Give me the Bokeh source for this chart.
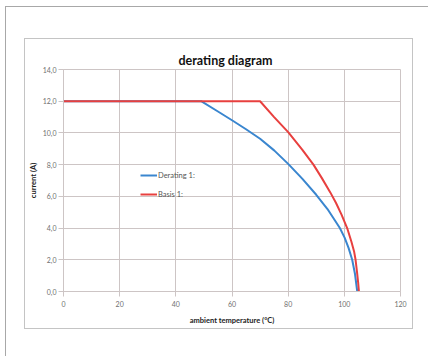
from bokeh.plotting import figure
from bokeh.layouts import column
from bokeh.models import Legend, LegendItem, FixedTicker, Range1d
from bokeh.embed import file_html
from bokeh.resources import INLINE

title_text = "derating diagram"
x_label = "ambient temperature (°C)"
y_label = "current (A)"
x_ticks = [0, 20, 40, 60, 80, 100, 120]
y_ticks = [0, 2, 4, 6, 8, 10, 12, 14]
y_tick_labels = ["0,0", "2,0", "4,0", "6,0", "8,0", "10,0", "12,0", "14,0"]

basis_name = "Basis 1:"
basis_temp = [0, 70, 75, 80, 85, 89, 92, 95, 97, 99, 101, 102.5, 103.5, 104, 104.5, 104.9, 105.2]
basis_current = [12, 12, 11.0, 10.05, 8.95, 8.0, 7.15, 6.25, 5.6, 4.85, 4.0, 3.15, 2.5, 2.0, 1.25, 0.6, 0]

derating_name = "Derating 1:"
derating_temp = [0, 49, 55, 60, 65, 70, 75, 80, 85, 90, 94, 98.4, 100.1, 101.5, 102.8, 103.8, 104.6]
derating_current = [12, 12, 11.35, 10.8, 10.23, 9.63, 8.9, 8.05, 7.12, 6.1, 5.2, 4.0, 3.4, 2.75, 2.0, 1.1, 0]

FONT = "Lato"
GRID = "#cdc5c5"

p = figure(width=387, height=289, output_backend="svg", toolbar_location=None,
           x_range=Range1d(0, 120), y_range=Range1d(0, 14),
           min_border_left=38, min_border_right=12, min_border_top=30, min_border_bottom=37,
           title=title_text)
p.margin = (32, 0, 0, 19)
p.styles = {"outline": "1px solid #c4c4c4"}
p.background_fill_color = "white"
p.border_fill_color = "white"
p.outline_line_color = GRID
p.outline_line_width = 1

p.title.align = "left"
p.title.offset = 115
p.title.standoff = 4
p.title.text_font = FONT
p.title.text_font_size = "12.5px"
p.title.text_font_style = "bold"
p.title.text_color = "#111111"

p.xaxis.ticker = FixedTicker(ticks=x_ticks)
p.yaxis.ticker = FixedTicker(ticks=y_ticks)
p.yaxis.major_label_overrides = {t: s for t, s in zip(y_ticks, y_tick_labels)}
p.xgrid.grid_line_color = GRID
p.ygrid.grid_line_color = GRID
p.xgrid.grid_line_width = 1
p.ygrid.grid_line_width = 1

for ax in (p.xaxis, p.yaxis):
    ax.axis_line_color = GRID
    ax.major_tick_line_color = GRID
    ax.major_tick_in = 0
    ax.major_tick_out = 5
    ax.minor_tick_line_color = None
    ax.major_label_text_font = FONT
    ax.major_label_text_font_size = "7px"
    ax.major_label_text_color = "#707070"
    ax.axis_label_text_font = FONT
    ax.axis_label_text_font_size = "7.5px"
    ax.axis_label_text_font_style = "bold"
    ax.axis_label_text_color = "#222222"

p.xaxis.axis_label = x_label
p.yaxis.axis_label = y_label
p.xaxis.major_label_standoff = 4
p.xaxis.axis_label_standoff = 6
p.yaxis.major_label_standoff = 2
p.yaxis.axis_label_standoff = 2

r_der = p.line(derating_temp, derating_current, line_color="#3a86cf", line_width=2)
r_bas = p.line(basis_temp, basis_current, line_color="#e8403f", line_width=2)

legend = Legend(items=[LegendItem(label=derating_name, renderers=[r_der]),
                       LegendItem(label=basis_name, renderers=[r_bas])],
                location=(77, 91), orientation="vertical")
legend.border_line_color = None
legend.background_fill_alpha = 0
legend.padding = 0
legend.margin = 0
legend.spacing = 7
legend.glyph_width = 17
legend.glyph_height = 12
legend.label_height = 12
legend.label_standoff = 1
legend.label_text_font = FONT
legend.label_text_font_size = "7.5px"
legend.label_text_color = "#555555"
p.add_layout(legend, "center")

page = column(p, width=423, height=350)
page.margin = (6, 0, 0, 5)
page.styles = {"border-left": "1.5px solid #a8a8a8", "border-top": "1.5px solid #a8a8a8",
               "background-color": "white"}

open("out.html", "w").write(file_html(page, INLINE))
